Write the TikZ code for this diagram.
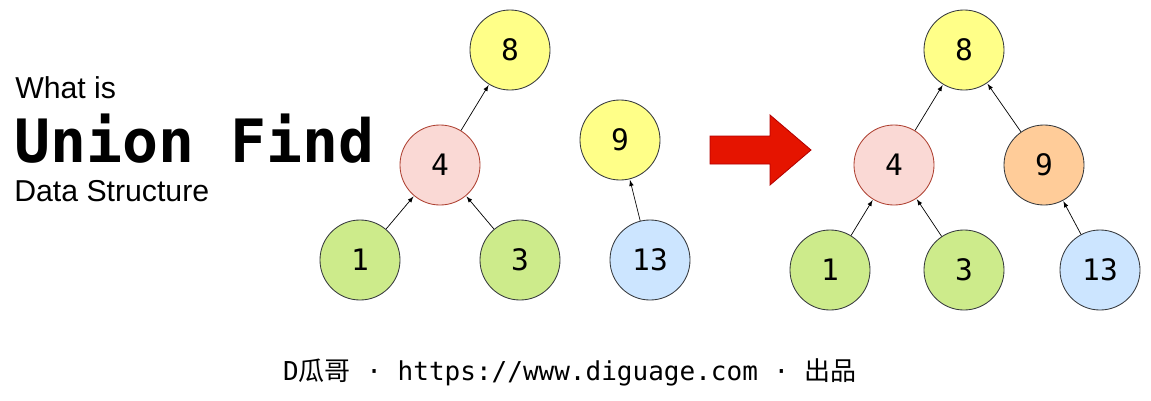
\documentclass[tikz,border=0pt]{standalone}
\usepackage{fontspec}
\setmainfont{Liberation Sans}
\newfontfamily\monofont{DejaVu Sans Mono}
\newfontfamily\cjk{Noto Sans CJK SC}
\usepackage{tikz}
\usetikzlibrary{arrows,positioning}

\definecolor{yellowfill}{HTML}{FFFF88}
\definecolor{pinkfill}{HTML}{FAD9D5}
\definecolor{pinkline}{HTML}{AE4132}
\definecolor{greenfill}{HTML}{CDEB8B}
\definecolor{bluefill}{HTML}{CCE5FF}
\definecolor{orangefill}{HTML}{FFCC99}
\definecolor{darkline}{HTML}{36393D}
\definecolor{redfill}{HTML}{E51400}
\definecolor{redline}{HTML}{B20000}

\begin{document}
\begin{tikzpicture}[
x=0.025cm, y=-0.025cm,
elem/.style={
		circle,
		minimum size=2cm,
		inner sep=0pt,
		draw=darkline,
		line width=0.6pt,
		font=\monofont\fontsize{21}{21}\selectfont,
		text centered,
		},
parent/.style={->, >=latex, line width=0.5pt, shorten >=0.5pt}
]

\useasboundingbox (0,0) rectangle (1151,401);

% title
\node[anchor=base west, inner sep=0pt, font=\fontsize{21.5}{21.5}\selectfont] (what) at (15,98) {What is};
\node[anchor=base west, inner sep=0pt, font=\monofont\bfseries\fontsize{42.5}{42.5}\selectfont] (title) at (14,162) {Union Find};
\node[anchor=base west, inner sep=0pt, font=\fontsize{21.5}{21.5}\selectfont] (sub) at (14,201) {Data Structure};

% before union
\node[elem, fill=yellowfill] (a8) at (510,50) {8};
\node[elem, fill=pinkfill, draw=pinkline] (a4) at (440,165) {4};
\node[elem, fill=yellowfill] (a9) at (620,140) {9};
\node[elem, fill=greenfill] (a1) at (360,260) {1};
\node[elem, fill=greenfill] (a3) at (520,260) {3};
\node[elem, fill=bluefill] (a13) at (650,260) {13};

\draw[parent] (a4) -- (a8);
\draw[parent] (a1) -- (a4);
\draw[parent] (a3) -- (a4);
\draw[parent] (a13) -- (a9);

% the big arrow
\fill[redfill, draw=redline, line width=0.6pt]
  (710,136) -- (770,136) -- (770,115) -- (811,150) -- (770,185) -- (770,164) -- (710,164) -- cycle;

% after union
\node[elem, fill=yellowfill] (b8) at (964,50) {8};
\node[elem, fill=pinkfill, draw=pinkline] (b4) at (894,165) {4};
\node[elem, fill=orangefill] (b9) at (1044,165) {9};
\node[elem, fill=greenfill] (b1) at (830,270) {1};
\node[elem, fill=greenfill] (b3) at (964,270) {3};
\node[elem, fill=bluefill] (b13) at (1100,270) {13};

\draw[parent] (b4) -- (b8);
\draw[parent] (b9) -- (b8);
\draw[parent] (b1) -- (b4);
\draw[parent] (b3) -- (b4);
\draw[parent] (b13) -- (b9);

% footer
\node[anchor=base, inner sep=0pt, font=\monofont\fontsize{18.5}{18.5}\selectfont] (foot) at (570,380)
  {D{\cjk 瓜哥} · https://www.diguage.com · {\cjk 出品}};

\end{tikzpicture}
\end{document}
